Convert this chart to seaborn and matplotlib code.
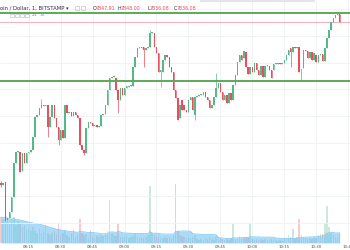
import numpy as np
import pandas as pd
import matplotlib
matplotlib.use("Agg")
import matplotlib.pyplot as plt
from matplotlib.patches import Rectangle
import seaborn as sns

# ---------------- data (BTC/USD, 1-minute candles, Bitstamp) ----------------
opens = [
    7594.5, 7591.5, 7596, 7539, 7542, 7551, 7573.5, 7624.5, 7641, 7641,
    7612.5, 7639.5, 7624.5, 7639.5, 7641, 7644, 7663.5, 7693.5, 7696.5, 7707,
    7711.5, 7710, 7711.5, 7678.5, 7693.5, 7711.5, 7692, 7678.5, 7659, 7674,
    7662, 7711.5, 7699.5, 7701, 7695, 7701, 7696.5, 7692, 7651.5, 7644,
    7639.5, 7677, 7686, 7684.5, 7680, 7681.5, 7678.5, 7680, 7696.5, 7698,
    7711.5, 7734, 7752, 7753.5, 7752, 7734, 7719, 7737, 7726.5, 7737,
    7738.5, 7740, 7740, 7768.5, 7783.5, 7797, 7798.5, 7798.5, 7794, 7797,
    7798.5, 7819.5, 7819.5, 7798.5, 7789.5, 7761, 7761, 7779, 7786.5, 7783.5,
    7768.5, 7761, 7734, 7722, 7692, 7719, 7711.5, 7704, 7701, 7719,
    7723.5, 7696.5, 7723.5, 7725, 7726.5, 7726.5, 7731, 7723.5, 7719, 7707,
    7711.5, 7723.5, 7737, 7744.5, 7731, 7719, 7726.5, 7714.5, 7729.5, 7719,
    7741.5, 7756.5, 7776, 7786.5, 7782, 7791, 7768.5, 7758, 7768.5, 7761,
    7774.5, 7764, 7756.5, 7770, 7753.5, 7770, 7770, 7764, 7764, 7773,
    7773, 7774.5, 7773, 7774.5, 7779, 7786.5, 7797, 7791, 7798.5, 7797,
    7798.5, 7764, 7767, 7794, 7792.5, 7782, 7791, 7779, 7786.5, 7776,
    7786.5, 7788, 7777.5, 7797, 7812, 7824, 7836, 7842, 7846.5, 7847.91,
]
closes = [
    7591.5, 7594.5, 7539, 7542, 7551, 7573.5, 7624.5, 7641, 7642.5, 7611,
    7639.5, 7624.5, 7639.5, 7641, 7644, 7663.5, 7693.5, 7696.5, 7707, 7711.5,
    7710, 7711.5, 7678.5, 7693.5, 7711.5, 7692, 7678.5, 7659, 7674, 7662,
    7711.5, 7699.5, 7701, 7695, 7701, 7696.5, 7692, 7651.5, 7644, 7639.5,
    7677, 7686, 7684.5, 7680, 7681.5, 7678.5, 7680, 7696.5, 7698, 7711.5,
    7734, 7752, 7753.5, 7755, 7734, 7719, 7737, 7726.5, 7737, 7740,
    7740, 7741.5, 7768.5, 7783.5, 7797, 7798.5, 7797, 7794, 7797, 7798.5,
    7819.5, 7821, 7798.5, 7789.5, 7761, 7764, 7779, 7786.5, 7783.5, 7768.5,
    7761, 7734, 7722, 7689, 7711.5, 7704, 7704, 7701, 7719, 7723.5,
    7704, 7723.5, 7725, 7726.5, 7728, 7731, 7723.5, 7719, 7707, 7711.5,
    7723.5, 7737, 7744.5, 7731, 7719, 7726.5, 7714.5, 7729.5, 7719, 7741.5,
    7756.5, 7776, 7786.5, 7779, 7792.5, 7768.5, 7758, 7768.5, 7761, 7774.5,
    7764, 7756.5, 7770, 7753.5, 7770, 7771.5, 7764, 7752, 7773, 7774.5,
    7774.5, 7773, 7774.5, 7779, 7786.5, 7794, 7791, 7798.5, 7797, 7798.5,
    7761, 7765.5, 7794, 7792.5, 7782, 7791, 7779, 7789.5, 7776, 7786.5,
    7788, 7777.5, 7797, 7812, 7824, 7836, 7842, 7846.5, 7848, 7836.08,
]
volumes = [
    52, 48, 56, 44, 40, 48, 52, 36, 44, 40, 32, 36, 28,
    28, 24, 32, 24, 20, 28, 20, 24, 34, 20, 16, 20, 24, 18, 40, 16, 20, 24,
    16, 12, 20, 28, 12, 16, 48, 20, 16, 18, 12, 26, 12, 10, 14,
    12, 16, 14, 20, 24, 86, 20, 16, 14, 38, 12, 10, 12, 14, 10,
    12, 14, 18, 12, 10, 12, 10, 12, 16, 114, 20, 16, 12, 14, 12,
    10, 12, 10, 12, 10, 16, 118, 24, 16, 14, 12, 10, 12, 10, 12,
    16, 8, 6, 8, 6, 10, 8, 12, 8, 6, 12, 8, 10, 8, 6, 8, 6, 10, 38, 8,
    12, 14, 10, 12, 10, 12, 40, 8, 6, 8, 6, 8, 6, 8, 6, 6, 8, 6, 6, 4,
    6, 4, 8, 10, 16, 12, 28, 10, 12, 48, 16, 12, 10, 8, 10, 8, 12, 10, 16, 18,
    18, 40, 74, 32, 20, 16, 12, 10, 20,
]
# longer wicks (candle index -> price)
upper_wick_idx = [0, 19, 70, 101, 159]
upper_wick_val = [7597.5, 7720.5, 7824, 7759.5, 7848.0]
lower_wick_idx = [0, 2, 22, 27, 39, 55, 67, 75, 91, 136, 141]
lower_wick_val = [7588.5, 7537.5, 7663.5, 7651.5, 7636.5, 7699.5, 7768.5, 7738.5, 7689, 7768.5, 7749]

first_candle = "08:02"
time_labels = ["08:15", "08:30", "08:45", "09:00", "09:15", "09:30",
               "09:45", "10:00", "10:15", "10:30", "10:45"]
resistance_levels = [7849, 7747]
last_price = 7836.08
price_grid = [7855, 7815, 7775, 7735, 7695, 7655, 7615, 7575, 7535]

assert len(opens) == len(closes) == len(volumes) == 160

# ---------------- frame ----------------
df = pd.DataFrame({"open": opens, "close": closes, "volume": volumes})
df["high"] = df[["open", "close"]].max(axis=1)
df["low"] = df[["open", "close"]].min(axis=1)
df.loc[upper_wick_idx, "high"] = upper_wick_val
df.loc[lower_wick_idx, "low"] = lower_wick_val
df["x"] = np.arange(len(df))
df["up"] = df["close"] >= df["open"]
df["ma"] = df["volume"].rolling(20, min_periods=1).mean()

GREEN = "#53b987"
RED = "#eb4d5c"

sns.set_theme(style="white")
plt.rcParams["font.family"] = ["DejaVu Sans"]

fig = plt.figure(figsize=(3.5, 2.5), dpi=100)
fig.patch.set_facecolor("white")
ax2 = fig.add_axes([0, 7 / 250, 1, 243 / 250])
ax = fig.add_axes([0, 7 / 250, 1, 243 / 250], sharex=ax2)
ax.patch.set_visible(False)

# volume + MA area
vcol = [GREEN if u else RED for u in df["up"]]
ax2.bar(df["x"], df["volume"], width=0.7, color=vcol, alpha=0.3, lw=0)
ax2.fill_between(df["x"], 0, df["ma"], color="#74c4f2", alpha=0.6, lw=0)
sns.lineplot(x=df["x"], y=df["ma"], ax=ax2, color="#74c4f2", lw=0.5)
ax2.set_ylim(0, 486)
ax2.set_yticks([])
ax2.set_ylabel("")
ax2.set_xlabel("")

# grid
t0 = pd.Timestamp("2000-01-01 " + first_candle)
tick_pos = [(pd.Timestamp("2000-01-01 " + t) - t0).total_seconds() / 60 for t in time_labels]
for p in tick_pos:
    ax2.axvline(p, color="#eef1f5", lw=0.6, zorder=0)
for g in price_grid:
    ax.axhline(g, color="#eef1f5", lw=0.6, zorder=0)

# candles
ax.vlines(df["x"], df["low"], df["high"], colors=vcol, lw=0.5, zorder=2)
ax.bar(df["x"], (df["close"] - df["open"]).abs().clip(lower=0.6),
       bottom=df[["open", "close"]].min(axis=1), width=0.7, color=vcol, lw=0, zorder=3)

for lvl in resistance_levels:
    ax.axhline(lvl, color="#5da955", lw=1.4, zorder=4)
ax.axhline(last_price, color="#f5a3ab", lw=0.6, zorder=1)

ax.set_ylim(7504.5, 7869)
ax.set_xlim(-0.47, 163.85)
ax.set_yticks([])
ax.set_xticks(tick_pos)
ax.set_xticklabels(time_labels, fontsize=2.8, color="#50535e")
ax.tick_params(axis="x", length=0, pad=1.2)
ax2.tick_params(axis="x", labelbottom=False, length=0)
for a in (ax, ax2):
    for s in a.spines.values():
        s.set_visible(False)

# header
fig.text(0 / 350, 1 - 8 / 250, "oin / Dollar, 1, BITSTAMP \u25be", fontsize=3.8,
         color="#2f3241", va="center", ha="left")
for bx in (75, 81):
    fig.patches.append(Rectangle((bx / 350, 1 - 10 / 250), 4 / 350, 4 / 250,
                                 transform=fig.transFigure, fill=False,
                                 ec="#b5b8c0", lw=0.4))
ohlc = [("O", "7847.91", 93), ("H", "7848.00", 118), ("L", "7836.08", 147), ("C", "7836.08", 174)]
for k, v, px in ohlc:
    fig.text(px / 350, 1 - 8 / 250, k, fontsize=3.4, color="#2f3241", va="center", ha="left")
    fig.text((px + 3) / 350, 1 - 8 / 250, v, fontsize=3.4, color="#eb4d5c", va="center", ha="left")
for bx in (10, 15, 20, 25):
    fig.patches.append(Rectangle((bx / 350, 1 - 17 / 250), 4 / 350, 3.5 / 250,
                                 transform=fig.transFigure, fill=False,
                                 ec="#b5b8c0", lw=0.4))
fig.text(32 / 350, 1 - 15 / 250, "21", fontsize=3.2, color="#eb4d5c", va="center", ha="left")
fig.text(40 / 350, 1 - 15 / 250, "15", fontsize=3.2, color="#3fa9f5", va="center", ha="left")
fig.patches.append(Rectangle((200 / 350, 1 - 2 / 250), 115 / 350, 2 / 250,
                             transform=fig.transFigure, color="#e3e5ea", lw=0))

fig.savefig("out.png", dpi=100, facecolor="white")
